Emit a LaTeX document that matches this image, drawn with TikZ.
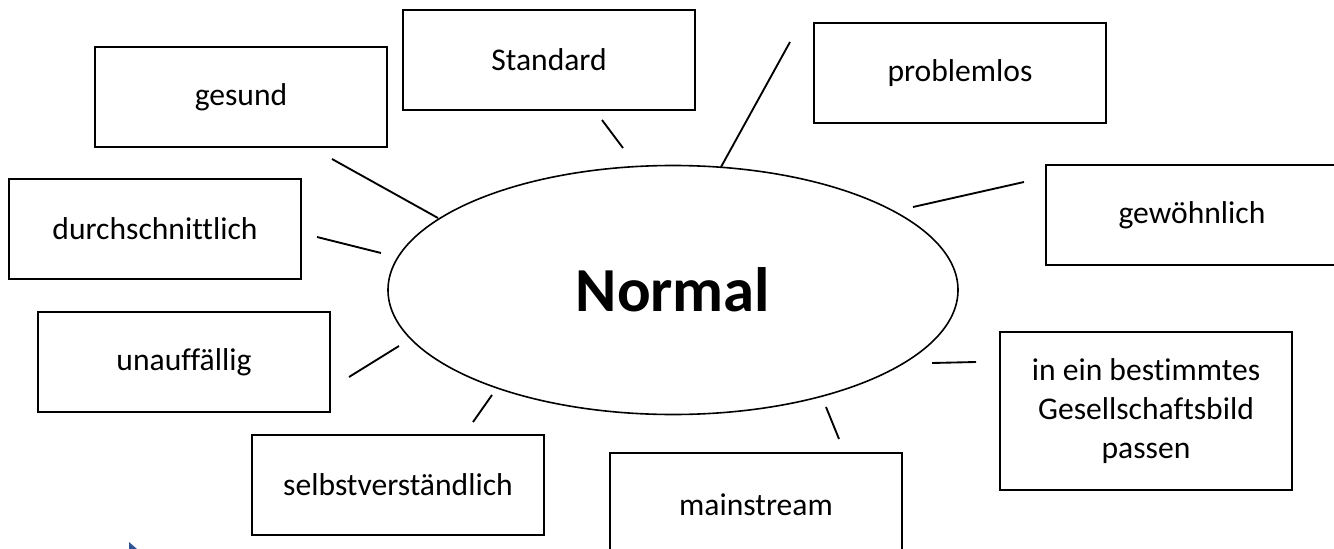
\documentclass[tikz,border=0pt]{standalone}
\usepackage{fontspec}
\setmainfont{Carlito}[Ligatures={NoCommon}]
\usetikzlibrary{shapes.geometric}
\definecolor{restblau}{RGB}{47,85,151}

\begin{document}
\begin{tikzpicture}[
        x=0.75pt, y=-0.75pt,
        box/.style={
            rectangle,
            draw,
            line width=1.5pt,
            minimum width=219pt,
            minimum height=75pt,
            align=center,
            font=\fontsize{23.7}{29.25}\selectfont
        },
        core/.style={
            ellipse,
            draw,
            line width=1.2pt,
            minimum width=427.5pt,
            minimum height=186.75pt,
            inner sep=0pt,
            font=\fontsize{47}{56}\selectfont\bfseries
        },
        spoke/.style={line width=1.4pt}
    ]
    \useasboundingbox (0,0) rectangle (1334,549);

    % Mitte und Begriffe
    \node[core] (normal) at (673,290) {Normal};
    \node[box] (gesund) at (241,97) {gesund};
    \node[box] (standard) at (549,60) {Standard};
    \node[box] (problemlos) at (960,73) {problemlos};
    \node[box] (durchschnitt) at (155,229) {durchschnittlich};
    \node[box] (gewoehnlich) at (1192,215) {gewöhnlich};
    \node[box] (unauffaellig) at (184,362) {unauffällig};
    \node[box] (gesellschaft) at (1146,411) [minimum height=119pt] {in ein bestimmtes\\Gesellschaftsbild\\passen};
    \node[box] (selbstverst) at (398,485) {selbstverständlich};
    \node[box] (mainstream) at (756,505) [minimum height=78pt] {mainstream};

    % Enden der Striche
    \coordinate (g1) at (332,159);  \coordinate (g2) at (438,218);
    \coordinate (s1) at (602,120);  \coordinate (s2) at (623,148);
    \coordinate (p1) at (790,42);   \coordinate (p2) at (721,167);
    \coordinate (w1) at (1024,182); \coordinate (w2) at (913,207);
    \coordinate (d1) at (317,237);  \coordinate (d2) at (381,253);
    \coordinate (u1) at (349,377);  \coordinate (u2) at (399,346);
    \coordinate (v1) at (473,422);  \coordinate (v2) at (492,395);
    \coordinate (m1) at (839,439);  \coordinate (m2) at (826,407);
    \coordinate (b1) at (976,362);  \coordinate (b2) at (932,363);

    \draw[spoke] (g1) -- (g2);
    \draw[spoke] (s1) -- (s2);
    \draw[spoke] (p1) -- (p2);
    \draw[spoke] (w1) -- (w2);
    \draw[spoke] (d1) -- (d2);
    \draw[spoke] (u1) -- (u2);
    \draw[spoke] (v1) -- (v2);
    \draw[spoke] (m1) -- (m2);
    \draw[spoke] (b1) -- (b2);

    % kleiner blauer Rest unten links
    \fill[restblau] (129,542) -- (137,549) -- (129,549) -- cycle;
\end{tikzpicture}
\end{document}
